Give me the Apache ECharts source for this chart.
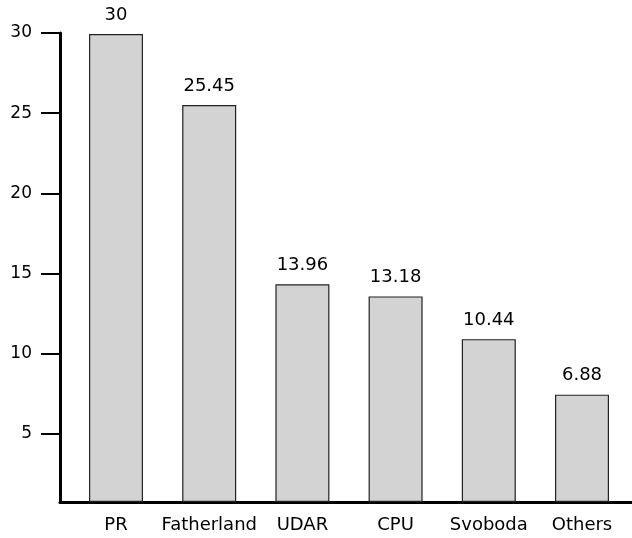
<!DOCTYPE html>
<html>
<head>
<meta charset="utf-8">
<script src="https://cdn.jsdelivr.net/npm/echarts@6/dist/echarts.min.js"></script>
<style>html,body{margin:0;padding:0;background:#fff}#c{width:632px;height:538px}</style>
</head>
<body>
<div id="c"></div>
<script>
const categories = ['PR', 'Fatherland', 'UDAR', 'CPU', 'Svoboda', 'Others'];
const values = [30, 25.45, 13.96, 13.18, 10.44, 6.88];
const yTickValues = [5, 10, 15, 20, 25, 30];

const chart = echarts.init(document.getElementById('c'), null, {renderer: 'canvas'});
const font = 'DejaVu Sans';
chart.setOption({
  animation: false,
  backgroundColor: '#fff',
  grid: [
    {left: 69.4, right: 3.4, top: 34, bottom: 36},
    {left: 60, right: 0, top: 33, bottom: 36}
  ],
  xAxis: [
    {
      type: 'category', gridIndex: 0, data: categories,
      axisLine: {show: false}, axisTick: {show: false},
      axisLabel: {color: '#000', fontFamily: font, fontSize: 18, margin: 14, interval: 0}
    },
    {
      type: 'value', gridIndex: 1, min: 0, max: 1,
      axisLine: {show: true, lineStyle: {color: '#000', width: 3}},
      axisTick: {show: false}, axisLabel: {show: false}, splitLine: {show: false}
    }
  ],
  yAxis: [
    {
      type: 'value', gridIndex: 0, min: 0, max: 30,
      axisLine: {show: false}, axisTick: {show: false}, axisLabel: {show: false}, splitLine: {show: false}
    },
    {
      type: 'value', gridIndex: 1, min: 0.75, max: 30,
      axisLine: {show: true, lineStyle: {color: '#000', width: 3}},
      axisTick: {show: true, length: 19, customValues: yTickValues, lineStyle: {color: '#000', width: 2}},
      axisLabel: {color: '#000', fontFamily: font, fontSize: 17, margin: 28, customValues: yTickValues},
      splitLine: {show: false}
    }
  ],
  series: [{
    type: 'bar', xAxisIndex: 0, yAxisIndex: 0, data: values, barWidth: 54,
    itemStyle: {color: '#d3d3d3', borderColor: '#222', borderWidth: 1.2},
    label: {show: true, position: 'top', distance: 10, color: '#000', fontFamily: font, fontSize: 18}
  }]
});
</script>
</body>
</html>
